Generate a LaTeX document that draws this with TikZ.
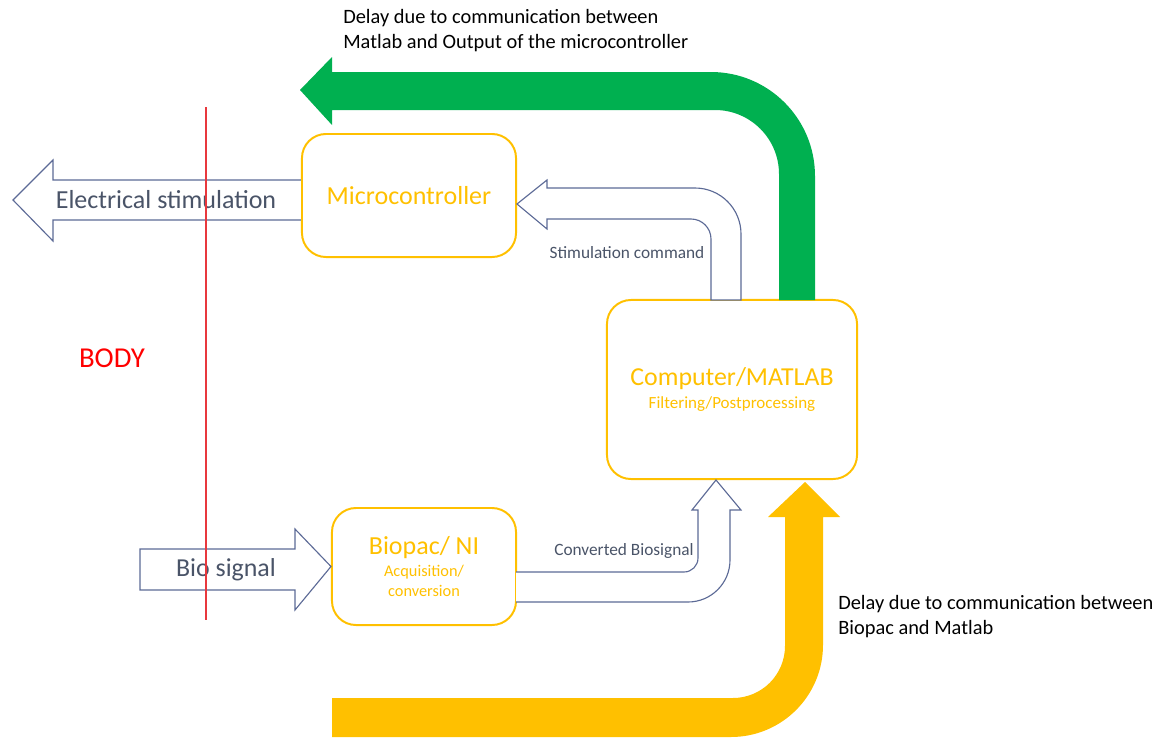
\documentclass[tikz,border=0pt]{standalone}
\usepackage{fontspec}
\setmainfont{Carlito}
\usetikzlibrary{calc,positioning}
\definecolor{yel}{HTML}{FFC000}
\definecolor{grn}{HTML}{00B050}
\definecolor{outl}{RGB}{92,106,150}
\definecolor{lbl}{HTML}{4A5468}
\definecolor{bodyred}{HTML}{E8383D}
\tikzset{%
    unitbox/.style={%
        rectangle, rounded corners=0.6cm, draw=yel, line width=1.4pt, text=yel, align=center
    },
    blockarrow/.style={%
        draw=outl, line width=0.8pt, fill=white, line join=miter
    },
    arrowlabel/.style={%
        text=lbl, inner sep=0pt
    },
    delaytxt/.style={%
        align=left, inner sep=0pt, font=\fontsize{14.5}{17.8}\selectfont
    },
}

\begin{document}
\begin{tikzpicture}[x=0.025cm, y=-0.025cm]

    \useasboundingbox (0,0) rectangle (1158,737);

    % processing units
    \node[unitbox, minimum width=5.35cm, minimum height=3.075cm] (mc) at (409,195.5)
      {\fontsize{18.5}{22}\selectfont Microcontroller};
    \node[unitbox, minimum width=6.25cm, minimum height=4.475cm] (pc) at (732,389.5)
      {\fontsize{18.4}{22}\selectfont Computer/MATLAB\\[4.5pt]\fontsize{12.1}{14}\selectfont Filtering/Postprocessing};
    \node[unitbox, minimum width=4.6cm, minimum height=2.925cm] (bp) at (424,566.5)
      {\fontsize{18.5}{22}\selectfont Biopac/ NI\\[3.8pt]\fontsize{11.6}{14}\selectfont Acquisition/\\[2pt]\fontsize{11.6}{14}\selectfont conversion};

    % delay arrows
    \fill[grn] (779,300) [rounded corners=1.6cm] -- (779,110) [sharp corners] -- (332,110) -- (332,125)
      -- (300,90) -- (332,57) -- (332,72) [rounded corners=2.6cm] -- (815,72) [sharp corners] -- (815,300) -- cycle;
    \fill[yel] (332,698) [rounded corners=1.3cm] -- (785,698) [sharp corners] -- (785,517) -- (768,517)
      -- (805,482) -- (840,517) -- (823,517) [rounded corners=2.3cm] -- (823,737) [sharp corners] -- (332,737) -- cycle;

    % signal arrows
    \draw[blockarrow] (mc.west |- 0,180) -- (53,180) -- (53,160) -- (13,200) -- (53,241) -- (53,220) -- (mc.west |- 0,220);
    \draw[blockarrow] (140,549) -- (295,549) -- (295,529) -- (bp.west) -- (295,610) -- (295,590) -- (140,590) -- cycle;
    \draw[blockarrow] (741,300) [rounded corners=1.15cm] -- (741,188) [sharp corners] -- (547,188) -- (547,180)
      -- (517,204) -- (547,229) -- (547,219) [rounded corners=0.5cm] -- (711,219) [sharp corners] -- (711,300) -- cycle;
    \draw[blockarrow] (516,572) [rounded corners=0.35cm] -- (698,572) [sharp corners] -- (698,510) -- (692,510)
      -- (716,480) -- (741,510) -- (730,510) [rounded corners=1.05cm] -- (730,602) [sharp corners] -- (516,602);

    % labels
    \node[arrowlabel, font=\fontsize{18.5}{22}\selectfont] (es) at (166,200) {Electrical stimulation};
    \node[arrowlabel, font=\fontsize{18.4}{22}\selectfont] (bs) at (226,570) {Bio signal};
    \node[arrowlabel, font=\fontsize{12.3}{14}\selectfont] (sc) at (627,253) {Stimulation command};
    \node[arrowlabel, font=\fontsize{12.3}{14}\selectfont] (cb) at (624,551) {Converted Biosignal};
    \node[delaytxt, anchor=west] (d1) at (343,31) {Delay due to communication between\\Matlab and Output of the microcontroller};
    \node[delaytxt, anchor=west] (d2) at (838,617) {Delay due to communication between\\Biopac and Matlab};

    % body boundary
    \draw[bodyred, line width=0.8pt] (206,107) -- (206,620);
    \node[text=red, font=\fontsize{20.5}{24}\selectfont] (body) at (112,358) {BODY};

  \end{tikzpicture}
\end{document}
